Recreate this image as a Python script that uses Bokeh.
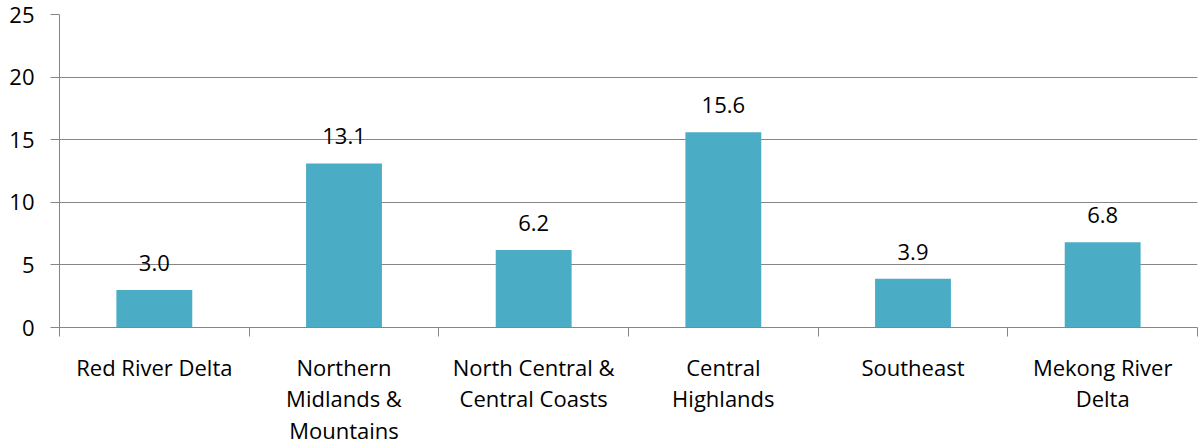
from bokeh.plotting import figure
from bokeh.models import Range1d, FixedTicker, ColumnDataSource, LinearAxis, Grid
from bokeh.core.properties import value
from bokeh.embed import file_html
from bokeh.resources import INLINE

# Regional values
regions = ["Red River Delta", "Northern\nMidlands &\nMountains", "North Central &\nCentral Coasts",
           "Central\nHighlands", "Southeast", "Mekong River\nDelta"]
values = [3.0, 13.1, 6.2, 15.6, 3.9, 6.8]
y_ticks = [0, 5, 10, 15, 20, 25]

FONT = "Open Sans"
FSIZE = "22px"
GRAY = "#868686"
BAR = "#4BACC6"

xs = [i + 0.5 for i in range(len(values))]
src = ColumnDataSource(dict(x=xs, top=values, label=[f"{v:.1f}" for v in values]))

p = figure(width=1199, height=448, output_backend="svg", toolbar_location=None,
           x_range=Range1d(0, len(values)), y_range=Range1d(0, 25),
           x_axis_type=None, y_axis_type=None,
           min_border_left=59, min_border_right=2, min_border_top=14, min_border_bottom=118)
p.outline_line_color = None
p.background_fill_color = "white"
p.border_fill_color = "white"

yaxis = LinearAxis(ticker=FixedTicker(ticks=y_ticks))
yaxis.axis_line_color = GRAY
yaxis.major_tick_line_color = GRAY
yaxis.major_tick_out = 9
yaxis.major_tick_in = 0
yaxis.minor_tick_line_color = None
yaxis.major_label_standoff = 16
yaxis.major_label_text_font = FONT
yaxis.major_label_text_font_size = FSIZE
yaxis.major_label_text_color = "#000000"
p.add_layout(yaxis, "left")

# category labels sit at bar centres, tick marks at category boundaries
xaxis = LinearAxis(ticker=FixedTicker(ticks=xs, minor_ticks=list(range(len(values) + 1))))
xaxis.major_label_overrides = {x: r for x, r in zip(xs, regions)}
xaxis.axis_line_color = GRAY
xaxis.major_tick_line_color = None
xaxis.major_tick_out = 0
xaxis.major_tick_in = 0
xaxis.minor_tick_line_color = GRAY
xaxis.minor_tick_out = 9
xaxis.minor_tick_in = 0
xaxis.major_label_standoff = 15
xaxis.major_label_text_font = FONT
xaxis.major_label_text_font_size = FSIZE
xaxis.major_label_text_color = "#000000"
xaxis.major_label_text_line_height = 1.06
p.add_layout(xaxis, "below")

p.add_layout(Grid(dimension=1, ticker=yaxis.ticker, grid_line_color=GRAY, grid_line_width=1))

p.vbar(x="x", top="top", bottom=0, width=0.4, source=src, fill_color=BAR, line_color=None)
p.text(x="x", y="top", text="label", source=src, y_offset=-27,
       text_align="center", text_baseline="middle",
       text_font=value(FONT), text_font_size=FSIZE, text_color="#000000")

open("out.html", "w").write(file_html(p, INLINE))
